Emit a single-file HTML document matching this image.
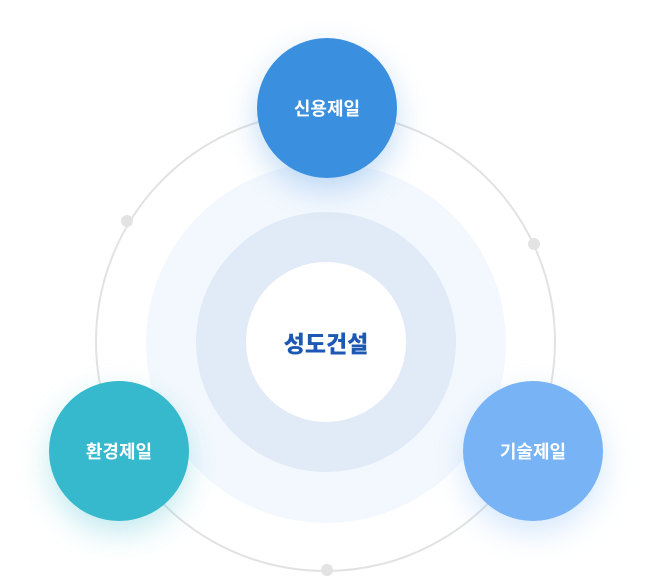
<!DOCTYPE html>
<html><head><meta charset="utf-8"><style>
body{margin:0;width:652px;height:581px;background:#fff;overflow:hidden;position:relative;font-family:"Liberation Sans","Noto Sans CJK KR",sans-serif}
.c{position:absolute;border-radius:50%;box-sizing:border-box}
.n{display:flex;align-items:center;justify-content:center;color:#fff;font-weight:bold;font-size:18px;width:140px;height:140px}
.d{width:12px;height:12px;background:#e3e3e3}
</style></head><body>
<div class="c" style="left:146px;top:163px;width:360px;height:360px;background:#f3f8fe"></div>
<div class="c" style="left:95px;top:111px;width:461px;height:461px;border:2px solid #e2e2e2"></div>
<div class="c" style="left:196px;top:212px;width:260px;height:260px;background:#e1ebf7"></div>
<div class="c" style="left:246px;top:262px;width:160px;height:160px;background:#fff;display:flex;align-items:center;justify-content:center;color:#1e58b3;font-weight:900;font-size:23px">성도건설</div>
<div class="c d" style="left:121px;top:215px"></div>
<div class="c d" style="left:528px;top:238px"></div>
<div class="c d" style="left:321px;top:564px"></div>
<div class="c n" style="left:257px;top:38px;background:#3a8fdf;box-shadow:0 12px 30px rgba(58,143,223,0.3)">신용제일</div>
<div class="c n" style="left:49px;top:381px;background:#36b9cc;box-shadow:0 12px 30px rgba(54,185,204,0.3)">환경제일</div>
<div class="c n" style="left:463px;top:381px;background:#77b3f5;box-shadow:0 12px 30px rgba(119,179,245,0.3)">기술제일</div>
</body></html>
